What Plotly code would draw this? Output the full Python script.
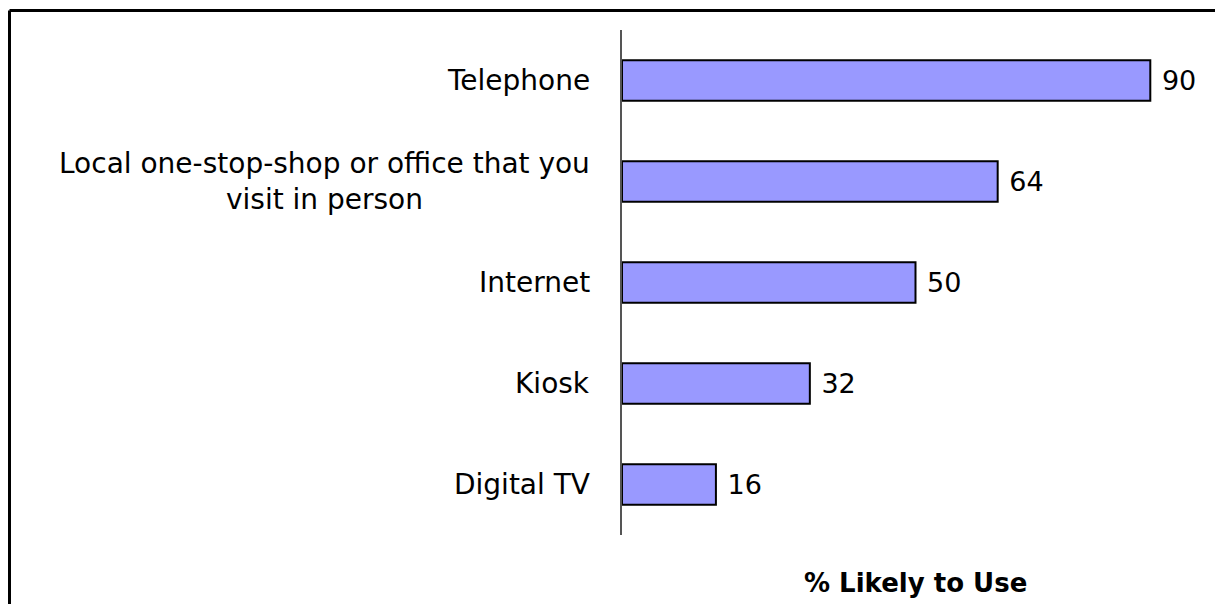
import plotly.graph_objects as go

# Survey results: share of respondents likely to use each channel
channels = [
    "Telephone",
    "Local one-stop-shop or office that you<br>visit in person",
    "Internet",
    "Kiosk",
    "Digital TV",
]
likely_pct = [90, 64, 50, 32, 16]
axis_title = "% Likely to Use"

W, H = 1215, 604
L, R, T, B = 622, 6, 30, 69
plot_w = W - L - R
plot_h = H - T - B

FONT = "DejaVu Sans, Verdana, sans-serif"

fig = go.Figure(
    go.Bar(
        x=likely_pct,
        y=channels,
        orientation="h",
        width=0.4,
        marker=dict(color="#9999FF", line=dict(color="black", width=2)),
        text=likely_pct,
        texttemplate=" %{x}",
        textposition="outside",
        textfont=dict(family=FONT, size=27, color="black"),
        cliponaxis=False,
        hoverinfo="skip",
    )
)

# Category labels, centred line by line, right-aligned against the axis
for name in channels:
    fig.add_annotation(
        x=-(30 / plot_w), xref="paper",
        y=name, yref="y",
        text=name, showarrow=False,
        xanchor="right", yanchor="middle", align="center",
        font=dict(family=FONT, size=28, color="black"),
    )

# Axis title below the bars
fig.add_annotation(
    x=0.5, xref="paper",
    y=-(48 / plot_h), yref="paper",
    text="<b>" + axis_title + "</b>", showarrow=False,
    xanchor="center", yanchor="middle",
    font=dict(family=FONT, size=26, color="black"),
)

# Frame lines along the top and left edges
x_left = (9.5 - L) / plot_w
y_top = (H - B - 10.5) / plot_h
fig.add_shape(type="line", xref="paper", yref="paper",
              x0=x_left, x1=(W - L) / plot_w + 0.01, y0=y_top, y1=y_top,
              line=dict(color="black", width=3))
fig.add_shape(type="line", xref="paper", yref="paper",
              x0=x_left, x1=x_left, y0=y_top, y1=-(B / plot_h) - 0.01,
              line=dict(color="black", width=3))

fig.update_layout(
    width=W, height=H,
    margin=dict(l=L, r=R, t=T, b=B),
    paper_bgcolor="white",
    plot_bgcolor="white",
    showlegend=False,
    bargap=0.6,
    xaxis=dict(range=[0, 100], showgrid=False, zeroline=False,
               showline=False, showticklabels=False, ticks=""),
    yaxis=dict(autorange="reversed", showgrid=False, zeroline=False,
               showline=True, linecolor="#555555", linewidth=1.5,
               showticklabels=False, ticks=""),
)

fig.write_html("out.html")
